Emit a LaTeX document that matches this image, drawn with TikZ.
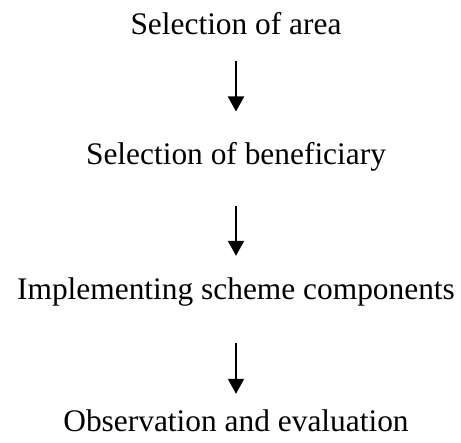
\documentclass[tikz,border=0pt]{standalone}
\usepackage{fontspec}
\setmainfont{Liberation Serif}
\usepackage{tikz}
\usetikzlibrary{arrows.meta}

\tikzset{
  stage/.style={inner sep=0pt, anchor=base, font=\fontsize{15.7}{19}\selectfont},
  flow/.style={-{Triangle[length=7.5pt,width=8pt]}, line width=0.9pt}
}

\begin{document}
\begin{tikzpicture}[x=0.5pt,y=-0.5pt]
\useasboundingbox (0,0) rectangle (461,443);

\node[stage] (area)  at (236,35)  {Selection of area};
\node[stage] (benef) at (236,165) {Selection of beneficiary};
\node[stage] (impl)  at (236,300) {Implementing scheme components};
\node[stage] (obs)   at (236,432) {Observation and evaluation};

% arrows between the stages
\draw[flow, shorten <=12.5pt, shorten >=15.5pt] (area.south) -- (benef.north);
\draw[flow, shorten <=17pt,   shorten >=11pt]   (benef.south) -- (impl.north);
\draw[flow, shorten <=18pt,   shorten >=8pt]    (impl.south) -- (obs.north);

\end{tikzpicture}
\end{document}
